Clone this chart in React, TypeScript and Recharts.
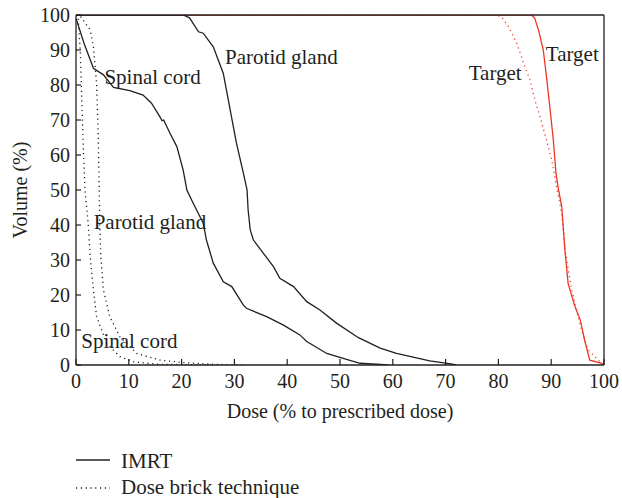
/* DVH comparison: IMRT (solid) vs dose brick technique (dotted). */
import { LineChart, Line, XAxis, YAxis, ReferenceLine, ReferenceDot } from 'recharts';

// [dose %, volume %]
const imrtParotid: [number, number][] = [
  [0, 100], [20.3, 100], [21.5, 99.2], [23.2, 95.2], [24.1, 94.8], [26, 90.9], [27.9, 83.3], [29.2, 72.9],
  [30.4, 63.3], [31.7, 54.8], [32.4, 50], [32.6, 44.3], [33, 38.6], [33.6, 35.7], [35.5, 31.9], [37.4, 28.1],
  [38.6, 24.8], [41.2, 22.4], [43.7, 18.1], [46.2, 15.7], [49.4, 11.9], [53.5, 7.8], [57.6, 4.8], [60.7, 3.3],
  [67, 1.2], [71, 0.3], [72, 0],
];
const imrtCord: [number, number][] = [
  [0, 99], [1.5, 92], [3.3, 84.8], [5.2, 82.9], [7.1, 79.3], [10.2, 78.4], [12.7, 77.1], [14.3, 74.8],
  [15.9, 70.9], [16.3, 69.8], [16.6, 70], [17.8, 66.2], [19.1, 62.4], [20.3, 55.7], [21, 50], [22.2, 46.2],
  [24.1, 40.5], [24.7, 35.7], [26, 29.1], [27.9, 23.8], [29.5, 22.4], [31.7, 17.1], [32.3, 16.2], [36.1, 13.8],
  [39.3, 11.4], [42.4, 8.6], [43.7, 6.7], [47.5, 3.3], [50.6, 1.9], [53.8, 0.5], [59.2, 0],
];
const brickParotid: [number, number][] = [
  [0, 100], [0.9, 99.5], [2.7, 95.7], [3.3, 91], [3.9, 80.5], [4.2, 66.2], [4.4, 50], [4.5, 40.5],
  [4.7, 30.9], [5.2, 21.4], [6.4, 13.8], [8.3, 8.1], [11.5, 3.3], [15.9, 1.4], [21, 0.6], [26, 0.2], [31.4, 0],
];
const brickCord: [number, number][] = [
  [0, 100], [0.4, 99.5], [0.8, 90], [1.1, 75.7], [1.4, 61.4], [1.7, 50], [2.3, 40.5], [2.7, 30.9],
  [3.3, 21.4], [3.9, 13.8], [5.8, 6.2], [8.3, 2.4], [10.9, 0.9], [15.9, 0.2], [26, 0],
];
const imrtTarget: [number, number][] = [
  [0, 100], [86.3, 100], [86.9, 99], [87.6, 95.7], [88.5, 90], [89.1, 82.4], [89.8, 72.9], [90.4, 64.3],
  [90.9, 54.8], [91.3, 50.9], [92, 45.2], [92.6, 32.9], [93.2, 23.3], [94.5, 16.7], [95.5, 12.9], [96.4, 6.7],
  [97.3, 1.4], [99.6, 0.5], [100, 0],
];
const brickTarget: [number, number][] = [
  [0, 100], [79.5, 100], [80.6, 99.5], [81.9, 96.7], [83.5, 91.9], [85, 85.2], [86, 81.4], [86.9, 75.7],
  [87.9, 70.9], [89.1, 64.3], [90.1, 58.6], [91, 50.9], [92, 43.3], [92.6, 32.9], [93.9, 21.4], [95.1, 13.8],
  [96.1, 8.1], [97, 4.3], [98.6, 1.9], [99.5, 0.5],
];

const doseTicks = [0, 10, 20, 30, 40, 50, 60, 70, 80, 90, 100];
const volumeTicks = [0, 10, 20, 30, 40, 50, 60, 70, 80, 90, 100];

// annotation labels: [text, dose, volume] (label centre)
const notes: [string, number, number][] = [
  ['Parotid gland', 38.9, 88],
  ['Spinal cord', 14.5, 82.3],
  ['Parotid gland', 14, 40.9],
  ['Spinal cord', 10.1, 6.9],
  ['Target', 79.4, 83.7],
  ['Target', 94, 89.1],
];

const FONT = 'Liberation Serif';
const INK = '#231f20';
const RED = '#ee3524';
const DOTS = '1.2 3.6';
const txt = { fontSize: 20, fontFamily: FONT, fill: INK };
const big = { ...txt, fontSize: 21 };

const rows = (pts: [number, number][]) => pts.map(([d, v]) => ({ d, v }));

// ticks point into the plot, labels outside
const XTick = (p: any) => (
  <g>
    <line x1={p.x} x2={p.x} y1={p.y - 9} y2={p.y - 15} stroke={INK} strokeWidth={1.2} />
    <text x={p.x} y={p.y} dy="0.71em" textAnchor="middle" {...txt}>
      {p.payload.value}
    </text>
  </g>
);

const YTick = (p: any) => (
  <g>
    <line x1={p.x + 6} x2={p.x + 11} y1={p.y} y2={p.y} stroke={INK} strokeWidth={1.2} />
    <text x={p.x} y={p.y} dy="0.35em" textAnchor="end" {...txt}>
      {p.payload.value}
    </text>
  </g>
);

export default function App() {
  const series = [
    { k: 'it', pts: imrtTarget, c: RED, dash: undefined },
    { k: 'bt', pts: brickTarget, c: RED, dash: DOTS },
    { k: 'bc', pts: brickCord, c: INK, dash: DOTS },
    { k: 'bp', pts: brickParotid, c: INK, dash: DOTS },
    { k: 'ic', pts: imrtCord, c: INK, dash: undefined },
    { k: 'ip', pts: imrtParotid, c: INK, dash: undefined },
  ];
  return (
    <div style={{ position: 'absolute', left: 0, top: 0, width: 622, height: 498, background: '#fff' }}>
      <LineChart width={622} height={498} margin={{ top: 15, right: 18, left: 0, bottom: 73 }}>
        <XAxis
          dataKey="d"
          type="number"
          domain={[0, 100]}
          ticks={doseTicks}
          allowDataOverflow
          height={60}
          tickSize={0}
          tickMargin={9}
          tick={<XTick />}
          axisLine={{ stroke: INK, strokeWidth: 1.3 }}
          label={{ value: 'Dose (% to prescribed dose)', position: 'center', dy: 16, ...txt }}
        />
        <YAxis
          dataKey="v"
          type="number"
          domain={[0, 100]}
          ticks={volumeTicks}
          allowDataOverflow
          width={76}
          tickSize={0}
          tickMargin={6}
          tick={<YTick />}
          axisLine={{ stroke: INK, strokeWidth: 1.3 }}
          label={{ value: 'Volume (%)', angle: -90, position: 'center', dx: -18, ...txt }}
        />
        {series.map((s) => (
          <Line
            key={s.k}
            data={rows(s.pts)}
            dataKey="v"
            type="linear"
            stroke={s.c}
            strokeWidth={1.3}
            strokeDasharray={s.dash}
            dot={false}
            activeDot={false}
            isAnimationActive={false}
          />
        ))}
        <ReferenceLine y={100} stroke={INK} strokeWidth={1.3} />
        <ReferenceLine x={100} stroke={INK} strokeWidth={1.3} />
        {notes.map(([t, x, y], i) => (
          <ReferenceDot
            key={i}
            x={x}
            y={y}
            r={0}
            stroke="none"
            fill="none"
            label={{ value: t, position: 'center', ...big }}
          />
        ))}
      </LineChart>
      <svg width={622} height={60} style={{ position: 'absolute', left: 0, top: 440 }}>
        <line x1={76} x2={110} y1={20} y2={20} stroke={INK} strokeWidth={1.3} />
        <text x={121} y={28} {...big}>IMRT</text>
        <line x1={76} x2={110} y1={48} y2={48} stroke={INK} strokeWidth={1.3} strokeDasharray={DOTS} />
        <text x={121} y={54} {...big}>Dose brick technique</text>
      </svg>
    </div>
  );
}
